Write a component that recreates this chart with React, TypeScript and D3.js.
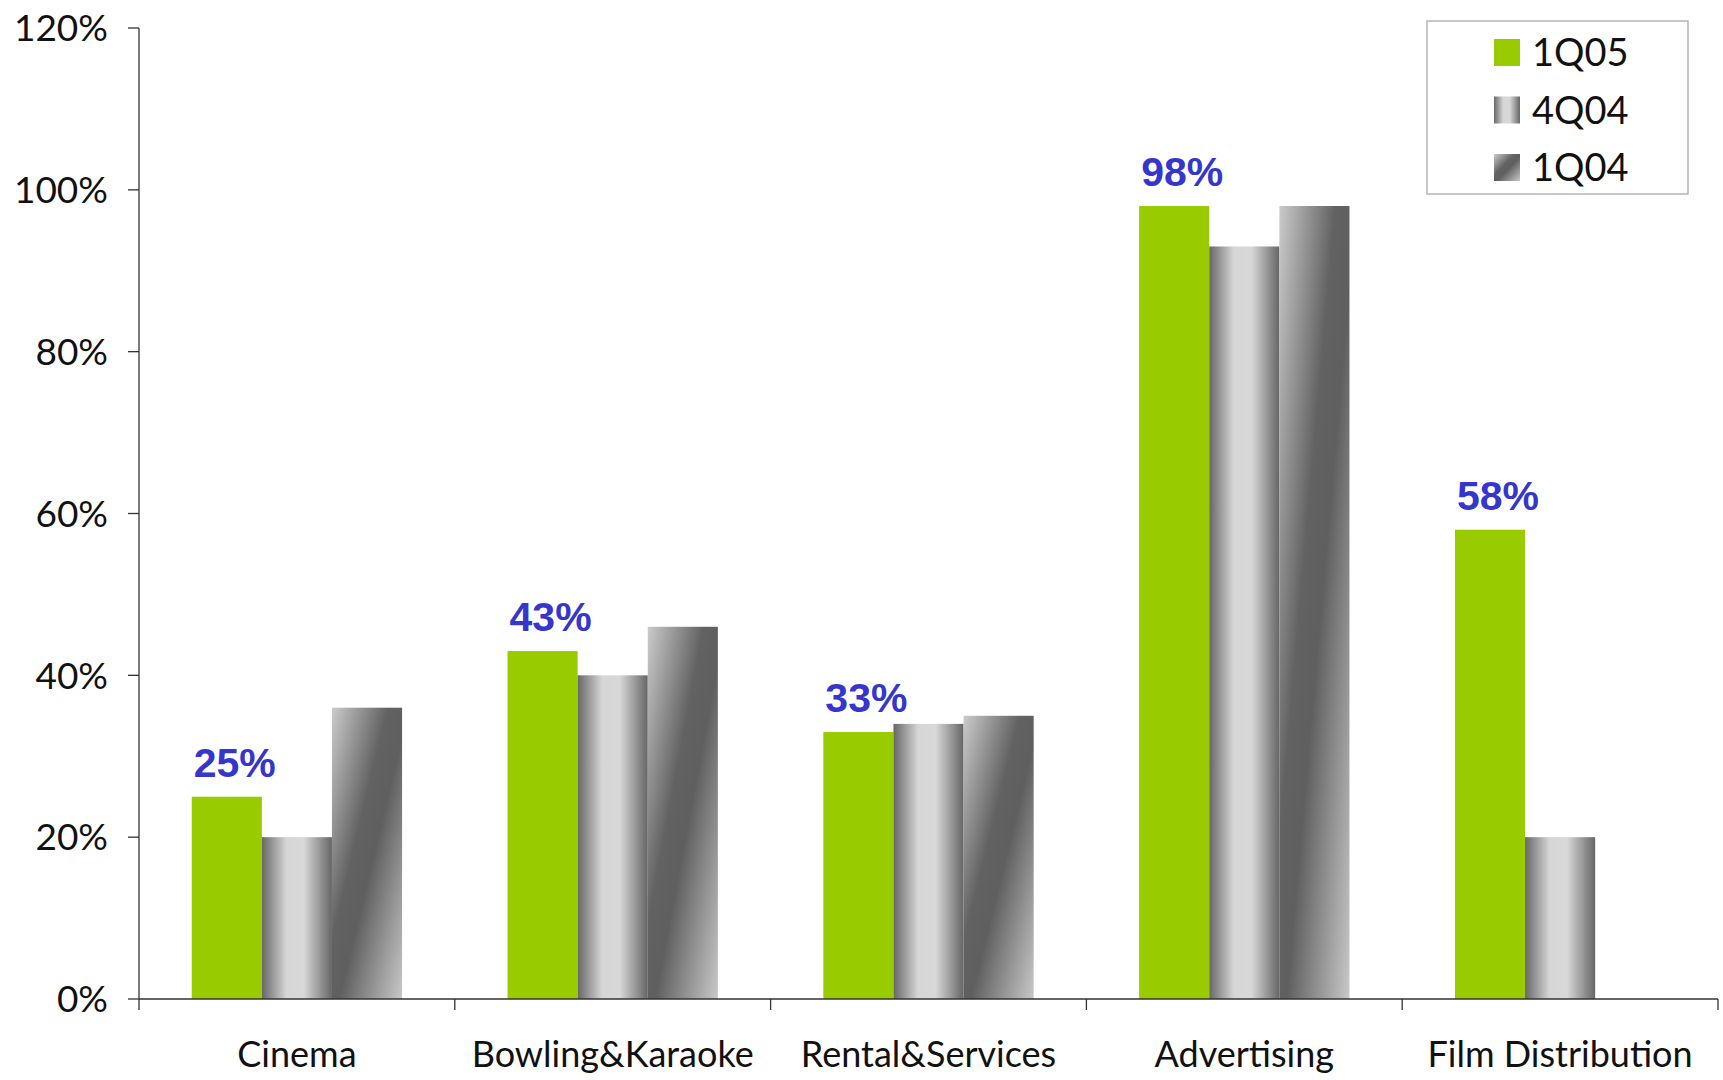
import React from "react";
import * as d3 from "d3";

const categories = ["Cinema", "Bowling&Karaoke", "Rental&Services", "Advertising", "Film Distribution"];
const seriesNames = ["1Q05", "4Q04", "1Q04"];
const values1Q05 = [0.25, 0.43, 0.33, 0.98, 0.58];
const values4Q04 = [0.2, 0.4, 0.34, 0.93, 0.2];
const values1Q04: (number | null)[] = [0.36, 0.46, 0.35, 0.98, null];
const yTicks = [0, 0.2, 0.4, 0.6, 0.8, 1.0, 1.2];
const labelled = ["25%", "43%", "33%", "98%", "58%"];

const W = 1723;
const H = 1080;
const left = 139;
const right = 1718;
const bottom = 999;
const top = 28;
const axisFont = "Lato, 'Open Sans', sans-serif";

export default function App() {
  const seriesValues = [values1Q05, values4Q04, values1Q04];
  const fills = ["#99cc00", "url(#g4q04)", "url(#g1q04)"];

  const y = d3.scaleLinear().domain([0, 1.2]).range([bottom, top]);
  const x0 = d3.scaleBand<string>().domain(categories).range([left, right]).paddingInner(0).paddingOuter(0);
  const bw = x0.bandwidth();
  const inset = bw * 0.167;
  const x1 = d3.scaleBand<string>().domain(seriesNames).range([inset, bw - inset]).padding(0);
  const fmt = d3.format(".0%");

  const boundaries = [...categories.map((c) => x0(c) as number), right];

  return (
    <svg width={W} height={H} style={{ position: "absolute", left: 0, top: 0, display: "block", background: "#fff" }}>
      <defs>
        <linearGradient id="g4q04" x1="0" y1="0" x2="1" y2="0">
          <stop offset="0" stopColor="#676767" />
          <stop offset="0.35" stopColor="#d6d6d6" />
          <stop offset="0.6" stopColor="#d8d8d8" />
          <stop offset="1" stopColor="#666666" />
        </linearGradient>
        <linearGradient id="g1q04" x1="0" y1="0" x2="1" y2="1">
          <stop offset="0" stopColor="#cbcbcb" />
          <stop offset="0.4" stopColor="#626262" />
          <stop offset="0.55" stopColor="#5f5f5f" />
          <stop offset="1" stopColor="#c8c8c8" />
        </linearGradient>
      </defs>

      {/* bars */}
      {categories.map((c, ci) => (
        <g key={c} transform={`translate(${x0(c)},0)`}>
          {seriesNames.map((s, si) => {
            const v = seriesValues[si][ci];
            if (v == null) return null;
            return (
              <rect
                key={s}
                x={x1(s)}
                y={y(v)}
                width={x1.bandwidth()}
                height={y(0) - y(v)}
                fill={fills[si]}
              />
            );
          })}
        </g>
      ))}

      {/* value labels for 1Q05 */}
      {categories.map((c, ci) => (
        <text
          key={"l" + c}
          x={(x0(c) as number) + (x1("1Q05") as number) + x1.bandwidth() / 2 + 8}
          y={y(values1Q05[ci]) - 20}
          textAnchor="middle"
          fontFamily="'Liberation Sans', Arial, sans-serif"
          fontWeight={700}
          fontSize={41}
          fill="#3636cc"
        >
          {labelled[ci]}
        </text>
      ))}

      {/* y axis */}
      <line x1={left} x2={left} y1={top} y2={bottom} stroke="#333" strokeWidth={1.3} />
      {yTicks.map((t) => (
        <g key={t}>
          <line x1={left - 11} x2={left} y1={y(t)} y2={y(t)} stroke="#333" strokeWidth={1.3} />
          <text
            x={108}
            y={y(t)}
            dy="0.36em"
            textAnchor="end"
            fontFamily={axisFont}
            fontSize={37}
            fill="#111"
          >
            {fmt(t)}
          </text>
        </g>
      ))}

      {/* x axis */}
      <line x1={left} x2={right} y1={bottom} y2={bottom} stroke="#333" strokeWidth={1.3} />
      {boundaries.map((bx, i) => (
        <line key={i} x1={bx} x2={bx} y1={bottom} y2={bottom + 11} stroke="#333" strokeWidth={1.3} />
      ))}
      {categories.map((c) => (
        <text
          key={"c" + c}
          x={(x0(c) as number) + bw / 2}
          y={1067}
          textAnchor="middle"
          fontFamily={axisFont}
          fontSize={36}
          fill="#111"
        >
          {c}
        </text>
      ))}

      {/* legend */}
      <rect x={1427} y={21} width={261} height={173} fill="#fff" stroke="#aaa" strokeWidth={1.3} />
      {seriesNames.map((s, i) => (
        <g key={"lg" + s} transform={`translate(1494,${39 + i * 57.5})`}>
          <rect x={0} y={0} width={26} height={27} fill={fills[i]} />
          <text x={38} y={27} fontFamily={axisFont} fontSize={38} fill="#111">
            {s}
          </text>
        </g>
      ))}
    </svg>
  );
}
